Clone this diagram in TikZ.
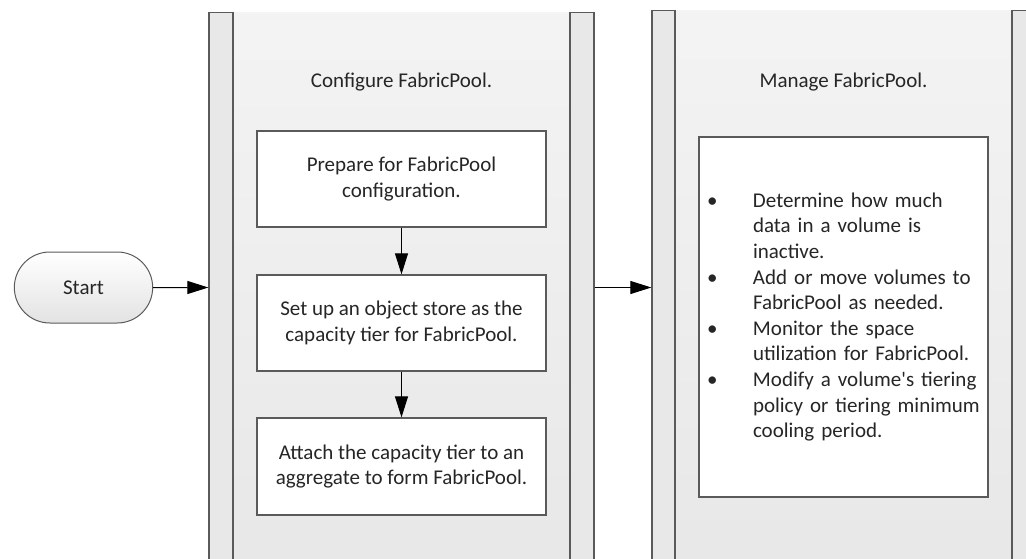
\documentclass[tikz,border=0pt]{standalone}
\usepackage{fontspec}
\setmainfont{Carlito}
\usepackage{xcolor}
\usetikzlibrary{shapes.misc,arrows.meta}

\definecolor{edge}{HTML}{5A5A5A}
\definecolor{lanegray}{HTML}{E8E8E8}
\definecolor{inktext}{HTML}{262626}

\tikzset{
    lane/.style={draw=edge, line width=1.3pt, fill=lanegray, anchor=north, inner sep=0pt},
    stepbox/.style={draw=edge, line width=1.3pt, fill=white, minimum width=289pt, align=center, inner sep=0pt},
    flow/.style={draw=black, line width=1pt, -{Triangle[length=21pt,width=13pt]}},
}

\newcommand{\bulletrow}{\makebox[46pt][l]{\textbullet}}
\newcommand{\bulletgap}{\hspace*{46pt}}

\begin{document}
\begin{tikzpicture}[x=1pt, y=-1pt, font=\fontsize{21}{25.6}\selectfont, text=inktext]
    \clip (0, 0) rectangle (1026, 559);
    \useasboundingbox (0, 0) rectangle (1026, 559);

    % swim lanes
    \node[lane, minimum width=385pt, minimum height=600pt] (conf) at (401.5, 12) {};
    \shade[top color=gray!9, bottom color=gray!19] (233, 12.7) rectangle (570, 600);
    \draw[edge, line width=1.3pt] (233, 12) -- (233, 600);
    \draw[edge, line width=1.3pt] (570, 12) -- (570, 600);

    \node[lane, minimum width=385pt, minimum height=600pt] (manage) at (844.5, 10) {};
    \shade[top color=gray!9, bottom color=gray!19] (675, 10.7) rectangle (1012, 600);
    \draw[edge, line width=1.3pt] (675, 10) -- (675, 600);
    \draw[edge, line width=1.3pt] (1012, 10) -- (1012, 600);

    \node (conftitle) at (401.5, 82) {Configure FabricPool.};
    \node (managetitle) at (843.5, 82) {Manage FabricPool.};

    % start
    \node[rounded rectangle, draw=edge, line width=1pt, top color=white, bottom color=gray!22,
          minimum width=145pt, minimum height=71pt] (start) at (83.5, 287.5) {Start};

    % steps
    \node[stepbox, minimum height=96pt] (prep) at (401.5, 179) {Prepare for FabricPool\\configuration.};
    \node[stepbox, minimum height=96pt] (setup) at (401.5, 323) {Set up an object store as the\\capacity tier for FabricPool.};
    \node[stepbox, minimum height=97pt] (attach) at (401.5, 466.5) {Attach the capacity tier to an\\aggregate to form FabricPool.};

    \node[stepbox, minimum height=360pt, text width=273pt, inner xsep=8pt, align=left] (tasks) at (843.5, 317)
        {\bulletrow Determine how much\\
         \bulletgap data in a volume is\\
         \bulletgap inactive.\\
         \bulletrow Add or move volumes to\\
         \bulletgap FabricPool as needed.\\
         \bulletrow Monitor the space\\
         \bulletgap utilization for FabricPool.\\
         \bulletrow Modify a volume\textquotesingle s tiering\\
         \bulletgap policy or tiering minimum\\
         \bulletgap cooling period.};

    % connectors
    \draw[flow] (start) -- (start -| conf.west);
    \draw[flow] (prep) -- (setup);
    \draw[flow] (setup) -- (attach);
    \draw[flow] (conf.east |- start) -- (manage.west |- start);

\end{tikzpicture}
\end{document}
